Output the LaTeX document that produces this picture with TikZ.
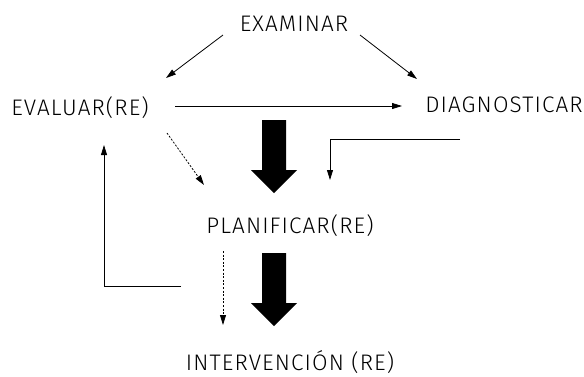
\documentclass[tikz,border=0pt]{standalone}
\usepackage{fontspec}
\setmainfont{Fira Sans Light}[LetterSpace=5]
\usetikzlibrary{arrows.meta,calc}
\tikzset{
  paso/.style={inner sep=0pt, anchor=base, font=\fontsize{22.5}{26}\selectfont},
  flecha/.style={line width=0.8pt, -{Triangle[length=10pt,width=6pt]}},
  punteada/.style={flecha, dash pattern=on 2pt off 1.6pt},
  blockarrow/.pic={\fill (-12,0) -- (12,0) -- (12,50) -- (23,50) -- (0,73) -- (-23,50) -- (-12,50) -- cycle;}
}
\begin{document}
\begin{tikzpicture}[x=1pt, y=-1pt, line join=miter]
  \useasboundingbox (0,0) rectangle (584,376);
  % etapas
  \node[paso] (exa) at (294,31) {EXAMINAR};
  \node[paso] (eva) at (80,115) {EVALUAR(RE)};
  \node[paso] (dia) at (504,112) {DIAGNOSTICAR};
  \node[paso] (pla) at (290,233) {PLANIFICAR(RE)};
  \node[paso] (int) at (290,370) {INTERVENCIÓN (RE)};
  % flechas
  \draw[flecha] ($(exa.base)+(-71,4)$) -- ($(eva.base)+(86,-37)$);
  \draw[flecha] ($(exa.base)+(66,4)$) -- ($(dia.base)+(-87,-33)$);
  \draw[flecha] ($(eva.base)+(95,-9)$) -- ($(dia.base)+(-102,-6)$);
  \draw[flecha] ($(dia.base)+(-44,27)$) -| ($(pla.base)+(40,-53)$);
  \draw[punteada] ($(eva.base)+(87,18)$) -- ($(pla.base)+(-86,-48)$);
  \draw[flecha] ($(pla.base)+(-109,53)$) -| ($(eva.base)+(24,30)$);
  \draw[punteada] ($(pla.base)+(-67,18)$) -- ($(int.base)+(-67,-45)$);
  \pic at ($(pla.base)+(-16,-113)$) {blockarrow};
  \pic at ($(pla.base)+(-16,20)$) {blockarrow};
\end{tikzpicture}
\end{document}
